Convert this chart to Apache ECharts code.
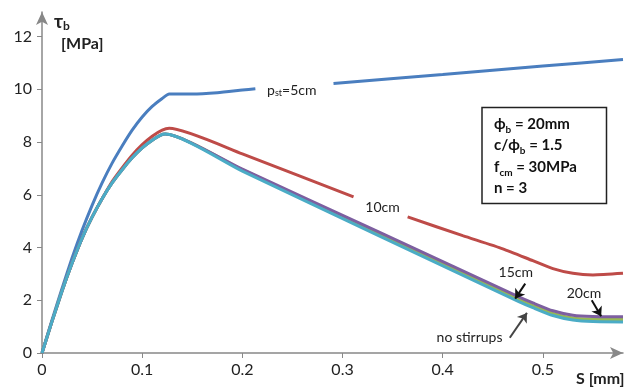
<!DOCTYPE html>
<html>
<head>
<meta charset="utf-8">
<script src="https://cdn.jsdelivr.net/npm/echarts@6/dist/echarts.min.js"></script>
<style>
  html, body { margin: 0; padding: 0; background: #fff; }
  #main { width: 633px; height: 387px; }
</style>
</head>
<body>
<div id="main"></div>
<script>
// slip s [mm] vs bond stress tau_b [MPa]
var xTicks = [0, 0.1, 0.2, 0.3, 0.4, 0.5];
var yTicks = [0, 2, 4, 6, 8, 10, 12];

// pst = 5cm (gap where the label sits)
var st5 = [[0,0],[0.01,1.25],[0.02,2.45],[0.03,3.6],[0.04,4.65],[0.05,5.6],[0.06,6.45],[0.07,7.2],[0.08,7.85],[0.09,8.45],[0.1,8.95],[0.11,9.35],[0.12,9.65],[0.127,9.82],[0.15,9.82],[0.175,9.87],[0.2,9.97],[0.213,10.02],[0.25,null],[0.291,10.22],[0.4,10.56],[0.5,10.88],[0.58,11.13]];
// 10cm
var st10 = [[0,0],[0.01,1.2],[0.02,2.35],[0.03,3.4],[0.04,4.35],[0.05,5.15],[0.06,5.85],[0.07,6.5],[0.08,7.02],[0.09,7.5],[0.1,7.9],[0.11,8.22],[0.12,8.45],[0.127,8.52],[0.2,7.55],[0.311,5.92],[0.34,null],[0.365,5.16],[0.42,4.45],[0.46,3.95],[0.49,3.5],[0.51,3.2],[0.53,3.02],[0.55,2.96],[0.58,3.02]];
// 15cm
var st15 = [[0,0],[0.01,1.2],[0.02,2.35],[0.03,3.4],[0.04,4.35],[0.05,5.15],[0.06,5.85],[0.07,6.45],[0.08,6.95],[0.09,7.4],[0.1,7.78],[0.11,8.07],[0.118,8.25],[0.123,8.3],[0.2,6.95],[0.336,4.52],[0.476,2.03],[0.49,1.8],[0.51,1.5],[0.53,1.33],[0.55,1.28],[0.58,1.27]];
// 20cm
var st20 = [[0,0],[0.01,1.2],[0.02,2.35],[0.03,3.4],[0.04,4.35],[0.05,5.15],[0.06,5.85],[0.07,6.45],[0.08,6.95],[0.09,7.4],[0.1,7.78],[0.11,8.07],[0.118,8.25],[0.123,8.3],[0.2,6.97],[0.336,4.59],[0.476,2.13],[0.49,1.9],[0.51,1.6],[0.53,1.43],[0.55,1.38],[0.58,1.37]];
// no stirrups
var noSt = [[0,0],[0.01,1.2],[0.02,2.35],[0.03,3.4],[0.04,4.35],[0.05,5.15],[0.06,5.85],[0.07,6.45],[0.08,6.95],[0.09,7.4],[0.1,7.78],[0.11,8.07],[0.118,8.25],[0.123,8.3],[0.2,6.9],[0.336,4.45],[0.476,1.95],[0.49,1.72],[0.51,1.42],[0.53,1.25],[0.55,1.19],[0.58,1.18]];

var colors = ['#4A7EBF', '#BE4B48', '#98B954', '#7D5FA0', '#4BACC6'];
var font = 'Lato, "Open Sans", sans-serif';

var myChart = echarts.init(document.getElementById('main'));

function curve(name, data, color, extra) {
  var s = {
    name: name,
    type: 'line',
    data: data,
    smooth: 0.2,
    showSymbol: false,
    connectNulls: false,
    lineStyle: { color: color, width: 3 },
    z: 3
  };
  for (var k in extra) s[k] = extra[k];
  return s;
}

function txt(coord, text, size) {
  return {
    coord: coord, symbolSize: 0,
    label: { show: true, position: 'inside', formatter: text, color: '#222', fontSize: size || 14, fontFamily: font,
      rich: { s: { fontSize: 9, color: '#222', fontFamily: font, verticalAlign: 'bottom', lineHeight: 10 } } }
  };
}

function arrow(from, to, color) {
  return [{ coord: from, lineStyle: { color: color || '#111', width: 2, type: 'solid' } }, { coord: to }];
}

var arrowDefaults = {
  silent: true, symbol: ['none', 'arrow'], symbolSize: 9, label: { show: false },
  lineStyle: { color: '#111', width: 2, type: 'solid' }, animation: false
};

var option = {
  animation: false,
  grid: { left: 42, right: 10, top: 12, bottom: 34, containLabel: false },
  xAxis: {
    type: 'value', min: 0, max: 0.58, interval: 0.1,
    axisLine: { show: true, symbol: ['none', 'arrow'], symbolSize: [9, 13], lineStyle: { color: '#888', width: 1.5 } },
    axisTick: { show: true, inside: false, length: 5, lineStyle: { color: '#888' } },
    axisLabel: { showMaxLabel: false, color: '#222', fontSize: 16, fontFamily: font, margin: 9,
      formatter: function (v) { return xTicks.indexOf(Math.round(v * 10) / 10) >= 0 ? String(Math.round(v * 10) / 10) : ''; } },
    splitLine: { show: false }
  },
  yAxis: {
    type: 'value', min: 0, max: 12.93, interval: 2,
    axisLine: { show: true, symbol: ['none', 'arrow'], symbolSize: [9, 13], lineStyle: { color: '#888', width: 1.5 } },
    axisTick: { show: true, inside: false, length: 5, lineStyle: { color: '#888' } },
    axisLabel: { showMaxLabel: false, color: '#222', fontSize: 16, fontFamily: font, margin: 10,
      formatter: function (v) { return yTicks.indexOf(Math.round(v)) >= 0 ? String(Math.round(v)) : ''; } },
    splitLine: { show: false }
  },
  series: [
    curve('5cm', st5, colors[0], {
      markPoint: { silent: true, data: [txt([0.2494, 9.95], 'p{s|st}=5cm')] }
    }),
    curve('10cm', st10, colors[1], {
      markPoint: { silent: true, data: [txt([0.340, 5.51], '10cm')] }
    }),
    curve('15cm', st15, colors[2], {
      markPoint: { silent: true, data: [txt([0.473, 3.06], '15cm'), txt([0.541, 2.27], '20cm'), txt([0.4268, 0.6], 'no stirrups')] },
      markLine: Object.assign({}, arrowDefaults, { data: [
        arrow([0.4824, 2.63], [0.4724, 2.06]),
        arrow([0.5488, 2.0], [0.5582, 1.39])
      ] })
    }),
    curve('20cm', st20, colors[3], {}),
    curve('no stirrups', noSt, colors[4], {
      markLine: Object.assign({}, arrowDefaults, { data: [
        arrow([0.467, 0.58], [0.4841, 1.52], '#444')
      ] })
    })
  ],
  graphic: [
    { type: 'text', left: 54, top: 12, style: { text: '{b|τ}{s|b}', fill: '#222',
      rich: { b: { fontSize: 19, fontWeight: 'bold', fontFamily: font, lineHeight: 22 },
              s: { fontSize: 12, fontWeight: 'bold', fontFamily: font, lineHeight: 12, verticalAlign: 'bottom' } } } },
    { type: 'text', left: 61, top: 36, style: { text: '[MPa]', fill: '#222', fontSize: 16, fontWeight: 'bold', fontFamily: font } },
    { type: 'text', left: 576, top: 371, style: { text: 'S [mm]', fill: '#222', fontSize: 16, fontWeight: 'bold', fontFamily: font } },
    { type: 'rect', shape: { x: 482, y: 107.5, width: 124.5, height: 96 }, style: { fill: '#fff', stroke: '#222', lineWidth: 1.5 }, z: 10 },
    { type: 'text', x: 494, y: 113, z: 11, style: {
      text: '{b|ϕ}{s|b}{b| = 20mm}\n{b|c/ϕ}{s|b}{b| = 1.5}\n{b|f}{s|cm}{b| = 30MPa}\n{b|n = 3}',
      fill: '#111',
      rich: { b: { fontSize: 15, fontWeight: 'bold', fontFamily: font, lineHeight: 21.5, fill: '#111' },
              s: { fontSize: 10, fontWeight: 'bold', fontFamily: font, lineHeight: 13, verticalAlign: 'bottom', fill: '#111' } } } }
  ]
};

myChart.setOption(option);
window.addEventListener('resize', function () { myChart.resize(); });
</script>
</body>
</html>
